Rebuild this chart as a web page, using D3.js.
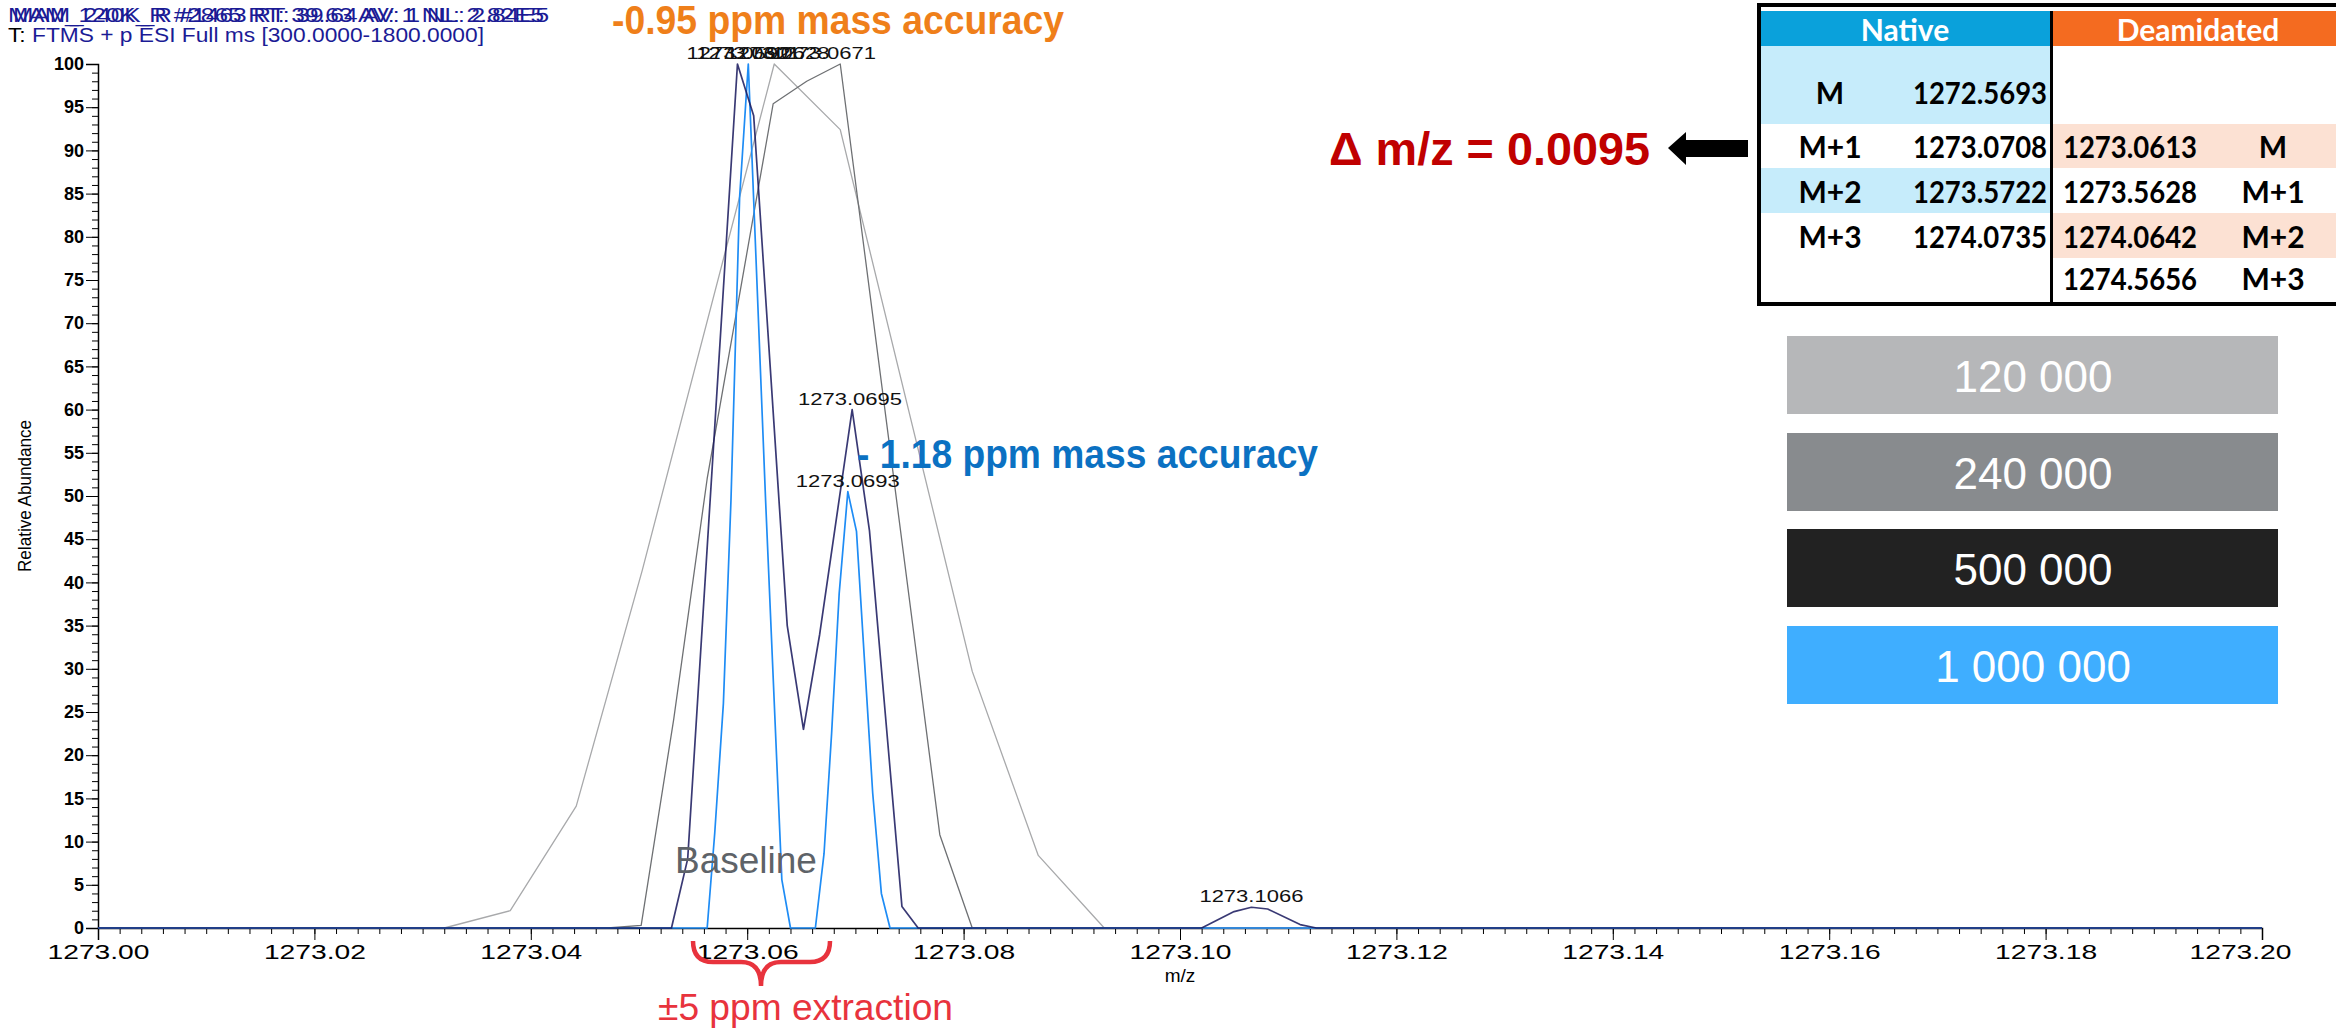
<!DOCTYPE html>
<html><head><meta charset="utf-8">
<script src="https://cdn.jsdelivr.net/npm/d3@7"></script>
<style>body{margin:0;background:#fff;} svg{display:block;}</style>
</head><body><svg id="c" width="2336" height="1030"></svg>
<script>
// ---------------- data ----------------
const seriesNames = ["120 000", "240 000", "500 000", "1 000 000"];
const lineColors = ["#A8A9AB", "#6E7073", "#16165C", "#1E8CF5"];
const legendColors = ["#B6B7B9", "#888B8E", "#222222", "#3FAEFF"];

const mz120 = [1273.000, 1273.0320, 1273.0381, 1273.0442, 1273.0503, 1273.0625, 1273.0686, 1273.0808, 1273.0869, 1273.0930, 1273.200];
const ab120 = [0, 0, 2.0, 14.1, 41.4, 100, 92.4, 29.7, 8.4, 0, 0];

const mz240 = [1273.000, 1273.0471, 1273.0502, 1273.0532, 1273.0563, 1273.0624, 1273.0655, 1273.0686, 1273.0778, 1273.0808, 1273.200];
const ab240 = [0, 0, 0.3, 24.1, 52, 95.4, 98, 100, 10.8, 0, 0];

const mz500 = [1273.000, 1273.0530, 1273.0545, 1273.0591, 1273.0606, 1273.0637, 1273.0652, 1273.0667, 1273.0697, 1273.0713, 1273.0743, 1273.0758, 1273.1020, 1273.1050, 1273.1066, 1273.1081, 1273.1111, 1273.1126, 1273.200];
const ab500 = [0, 0, 8, 100, 94, 35, 23, 34, 60, 46, 2.5, 0, 0, 1.9, 2.4, 2.2, 0.4, 0, 0];

const mz1M = [1273.000, 1273.0563, 1273.0570, 1273.0578, 1273.0585, 1273.0593, 1273.0601, 1273.0617, 1273.0632, 1273.0640, 1273.0663, 1273.0671, 1273.0678, 1273.0685, 1273.0693, 1273.0701, 1273.0716, 1273.0724, 1273.0732, 1273.200];
const ab1M = [0, 0, 11, 26, 49.5, 84.6, 100, 49.5, 5.6, 0, 0, 8.6, 22.5, 38.7, 50.5, 45.9, 15.6, 4, 0, 0];

const peakLabelMz = [1273.0592, 1273.0601, 1273.0628, 1273.0671, 1273.0695, 1273.0693, 1273.1066];
const peakLabelAb = [100, 100, 100, 100, 60, 50.5, 2.4];
const peakLabelText = ["1273.0592", "1273.0601", "1273.0628", "1273.0671", "1273.0695", "1273.0693", "1273.1066"];

const xTicks = [1273.00, 1273.02, 1273.04, 1273.06, 1273.08, 1273.10, 1273.12, 1273.14, 1273.16, 1273.18, 1273.20];
const yTicks = [0, 5, 10, 15, 20, 25, 30, 35, 40, 45, 50, 55, 60, 65, 70, 75, 80, 85, 90, 95, 100];

const headerLine1 = ["MAM_120K_R #2865 RT: 39.63 AV: 1 NL: 2.82E5", "MAM_240K_R #1463 RT: 39.64 AV: 1 NL: 2.84E5"];
const headerLine2 = "FTMS + p ESI Full ms [300.0000-1800.0000]";

const tableHeads = ["Native", "Deamidated"];
const nativeLabels = ["M", "M+1", "M+2", "M+3"];
const nativeValues = ["1272.5693", "1273.0708", "1273.5722", "1274.0735"];
const deamidValues = ["1273.0613", "1273.5628", "1274.0642", "1274.5656"];
const deamidLabels = ["M", "M+1", "M+2", "M+3"];

// ---------------- chart ----------------
const svg = d3.select("#c");
const AR = "'Liberation Sans', Arial, sans-serif";
const x = d3.scaleLinear().domain([1273.00, 1273.20]).range([98, 2262]);
const y = d3.scaleLinear().domain([0, 100]).range([928, 64]);

// header
const h1 = svg.append("g").attr("font-family", AR).attr("font-size", 20);
headerLine1.forEach((t, i) => {
  h1.append("text").attr("x", 8 + i * 5).attr("y", 22).attr("fill", "#1B1B95")
    .attr("textLength", 536).attr("lengthAdjust", "spacingAndGlyphs").text(t);
});
const l2 = h1.append("text").attr("x", 8).attr("y", 42).attr("textLength", 476).attr("lengthAdjust", "spacingAndGlyphs");
l2.append("tspan").attr("fill", "#000").text("T: ");
l2.append("tspan").attr("fill", "#1B1B95").text(headerLine2);

// axes
const xMinor = d3.range(0, 101).map(i => 1273 + i * 0.002);
const yMinor = d3.range(0, 101);
svg.append("g").attr("transform", `translate(0,${y(0)})`)
  .call(d3.axisBottom(x).tickValues(xMinor).tickSize(6).tickFormat(""))
  .call(g => g.select(".domain").remove())
  .selectAll("line").attr("stroke", "#000");
const xa = svg.append("g").attr("transform", `translate(0,${y(0)})`)
  .call(d3.axisBottom(x).tickValues(xTicks).tickSize(12).tickPadding(4).tickFormat(d3.format(".2f")));
xa.select(".domain").attr("stroke", "#000").attr("stroke-width", 1.5);
xa.selectAll("text").attr("font-family", AR).attr("font-size", 21).attr("fill", "#000")
  .attr("textLength", 102).attr("lengthAdjust", "spacingAndGlyphs");
xa.selectAll(".tick").filter(d => d === 1273.20).select("text").attr("dx", -22);

svg.append("g").attr("transform", `translate(${x(1273)},0)`)
  .call(d3.axisLeft(y).tickValues(yMinor).tickSize(6).tickFormat(""))
  .call(g => g.select(".domain").remove());
const ya = svg.append("g").attr("transform", `translate(${x(1273)},0)`)
  .call(d3.axisLeft(y).tickValues(yTicks).tickSize(12).tickPadding(2));
ya.select(".domain").attr("stroke", "#000").attr("stroke-width", 1.5);
ya.selectAll("text").attr("font-family", AR).attr("font-size", 18).attr("font-weight", "bold").attr("fill", "#000");

svg.append("text").attr("transform", "translate(31,496) rotate(-90)").attr("text-anchor", "middle")
  .attr("font-family", AR).attr("font-size", 19).attr("textLength", 152).attr("lengthAdjust", "spacingAndGlyphs")
  .text("Relative Abundance");
svg.append("text").attr("x", x(1273.1)).attr("y", 982).attr("text-anchor", "middle")
  .attr("font-family", AR).attr("font-size", 19).text("m/z");

// series
const line = d3.line().x(d => x(d[0])).y(d => y(d[1]));
const series = [[mz120, ab120], [mz240, ab240], [mz1M, ab1M], [mz500, ab500]];
const order = [0, 1, 3, 2];
series.forEach((s, k) => {
  const i = order[k];
  const pts = s[0].map((m, j) => [m, s[1][j]]);
  svg.append("path").datum(pts).attr("d", line).attr("fill", "none")
    .attr("stroke", lineColors[i]).attr("stroke-width", i >= 2 ? 1.7 : 1.3).attr("stroke-linejoin", "round")
    .attr("stroke-opacity", i === 2 ? 0.85 : 1);
});

// peak labels
peakLabelMz.forEach((m, i) => {
  svg.append("text").attr("x", x(m)).attr("y", y(peakLabelAb[i]) - 5).attr("text-anchor", "middle")
    .attr("font-family", AR).attr("font-size", 16).attr("fill", "#111")
    .attr("textLength", 104).attr("lengthAdjust", "spacingAndGlyphs").text(peakLabelText[i]);
});

// annotations
svg.append("text").attr("x", 612).attr("y", 34).attr("font-family", AR).attr("font-weight", "bold")
  .attr("font-size", 40).attr("fill", "#EF7F1A").attr("textLength", 452).attr("lengthAdjust", "spacingAndGlyphs")
  .text("-0.95 ppm mass accuracy");
svg.append("text").attr("x", 857).attr("y", 468).attr("font-family", AR).attr("font-weight", "bold")
  .attr("font-size", 40).attr("fill", "#0B71C2").attr("textLength", 461).attr("lengthAdjust", "spacingAndGlyphs")
  .text("- 1.18 ppm mass accuracy");
svg.append("text").attr("x", 675).attr("y", 873).attr("font-family", AR)
  .attr("font-size", 37).attr("fill", "#5E6368").text("Baseline");
svg.append("path").attr("d", "M693,941 Q693,962 713,962 L741,962 Q761,962 761,986 Q761,962 781,962 L810,962 Q830,962 830,941")
  .attr("fill", "none").attr("stroke", "#E8333D").attr("stroke-width", 4.5);
svg.append("text").attr("x", 658).attr("y", 1020).attr("font-family", AR)
  .attr("font-size", 36).attr("fill", "#E8333D").attr("textLength", 295).attr("lengthAdjust", "spacingAndGlyphs")
  .text("±5 ppm extraction");

svg.append("text").attr("x", 1329).attr("y", 165).attr("font-family", AR).attr("font-weight", "bold")
  .attr("font-size", 46).attr("fill", "#C00000").attr("textLength", 321).attr("lengthAdjust", "spacingAndGlyphs")
  .text("Δ m/z = 0.0095");
svg.append("polygon").attr("points", "1668,148 1686,132 1686,140 1748,140 1748,157 1686,157 1686,165").attr("fill", "#000");

// table
const CB = "Lato, 'Open Sans', sans-serif";
const tb = svg.append("g");
const rowY = [46, 124, 168, 213, 258, 302];
tb.append("rect").attr("x", 1760).attr("y", 11).attr("width", 291).attr("height", 35).attr("fill", "#0AA1DB");
tb.append("rect").attr("x", 2053).attr("y", 11).attr("width", 283).attr("height", 35).attr("fill", "#F46B20");
[0, 2].forEach(r => tb.append("rect").attr("x", 1760).attr("y", rowY[r]).attr("width", 291).attr("height", rowY[r + 1] - rowY[r]).attr("fill", "#C6ECFB"));
[1, 3].forEach(r => tb.append("rect").attr("x", 2053).attr("y", rowY[r]).attr("width", 283).attr("height", rowY[r + 1] - rowY[r]).attr("fill", "#FCE1D3"));
tb.append("rect").attr("x", 1757).attr("y", 3).attr("width", 579).attr("height", 4).attr("fill", "#000");
tb.append("rect").attr("x", 1757).attr("y", 3).attr("width", 4).attr("height", 303).attr("fill", "#000");
tb.append("rect").attr("x", 2050).attr("y", 11).attr("width", 3).attr("height", 295).attr("fill", "#000");
tb.append("rect").attr("x", 1757).attr("y", 302).attr("width", 579).attr("height", 4).attr("fill", "#000");
tb.append("text").attr("x", 1905).attr("y", 41).attr("text-anchor", "middle").attr("font-family", CB).attr("font-weight", "bold")
  .attr("font-size", 30).attr("fill", "#fff").text(tableHeads[0]);
tb.append("text").attr("x", 2198).attr("y", 41).attr("text-anchor", "middle").attr("font-family", CB).attr("font-weight", "bold")
  .attr("font-size", 30).attr("fill", "#fff").text(tableHeads[1]);
const nBase = [104, 158, 203, 248];
const dBase = [158, 203, 248, 290];
nativeLabels.forEach((t, i) => {
  tb.append("text").attr("x", 1830).attr("y", nBase[i]).attr("text-anchor", "middle").attr("font-family", CB)
    .attr("font-weight", "bold").attr("font-size", 30).attr("fill", "#000").text(t);
  tb.append("text").attr("x", 2047).attr("y", nBase[i]).attr("text-anchor", "end").attr("font-family", CB)
    .attr("font-weight", "bold").attr("font-size", 30).attr("fill", "#000")
    .attr("textLength", 134).attr("lengthAdjust", "spacingAndGlyphs").text(nativeValues[i]);
});
deamidValues.forEach((t, i) => {
  tb.append("text").attr("x", 2063).attr("y", dBase[i]).attr("font-family", CB)
    .attr("font-weight", "bold").attr("font-size", 30).attr("fill", "#000")
    .attr("textLength", 134).attr("lengthAdjust", "spacingAndGlyphs").text(t);
  tb.append("text").attr("x", 2273).attr("y", dBase[i]).attr("text-anchor", "middle").attr("font-family", CB)
    .attr("font-weight", "bold").attr("font-size", 30).attr("fill", "#000").text(deamidLabels[i]);
});

// legend boxes
const boxY = [336, 433, 529, 626];
seriesNames.forEach((n, i) => {
  svg.append("rect").attr("x", 1787).attr("y", boxY[i]).attr("width", 491).attr("height", 78).attr("fill", legendColors[i]);
  svg.append("text").attr("x", 2033).attr("y", boxY[i] + 56).attr("text-anchor", "middle").attr("font-family", AR)
    .attr("font-size", 44).attr("fill", "#fff").text(n);
});
</script></body></html>
